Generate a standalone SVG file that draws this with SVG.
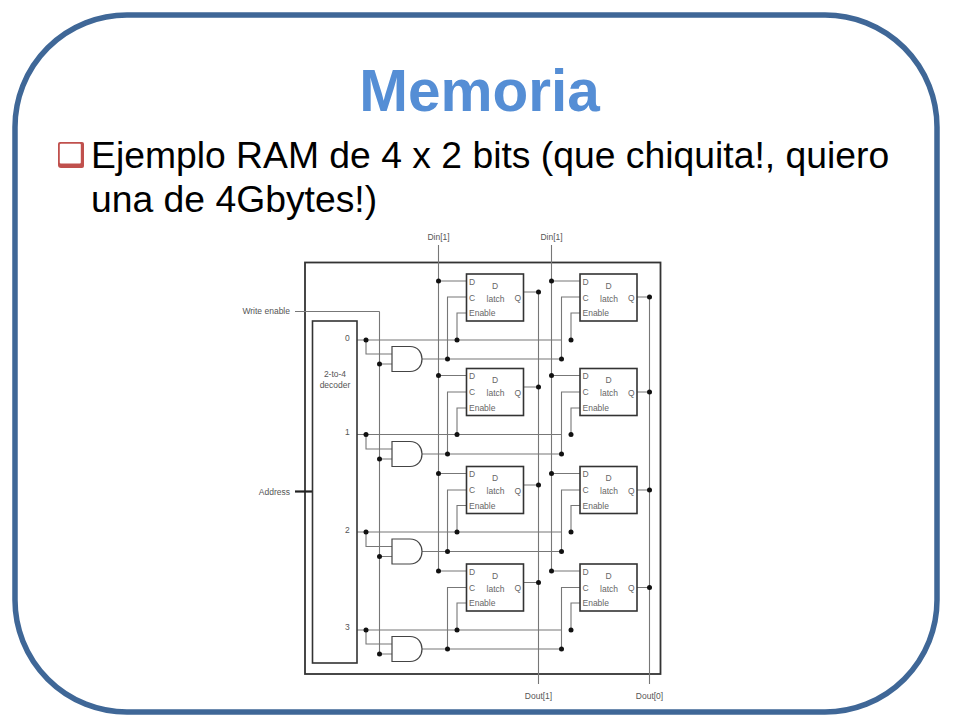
<svg xmlns="http://www.w3.org/2000/svg" width="960" height="720" viewBox="0 0 960 720">
<style>
text{font-family:"Liberation Sans",Arial,sans-serif}
.t{font-size:8.500px;fill:#555}
.l{font-size:8.500px;fill:#666}
.w{fill:none;stroke:#777;stroke-width:1.1}
.b{fill:#fff;stroke:#333;stroke-width:1.6}
.g{fill:#fff;stroke:#444;stroke-width:1.2}
.d{fill:#111}
</style>
<defs>
<circle id="dot" r="2.500" class="d"/>
<g id="latch">
<rect class="b" x="0" y="0" width="57" height="47"/>
<text class="l" x="2.500" y="10.500">D</text>
<text class="l" x="2.500" y="26.500">C</text>
<text class="l" x="2.500" y="42">Enable</text>
<text class="l" x="28.500" y="14.500" text-anchor="middle">D</text>
<text class="l" x="29" y="27.500" text-anchor="middle">latch</text>
<text class="l" x="48" y="27">Q</text>
</g>
<path id="and" class="g" d="M0 0H18C26 0 30 6 30 12.500S26 25 18 25H0Z"/>
</defs>
<rect width="960" height="720" fill="#fff"/>
<rect id="slide-frame" x="15" y="15" width="922" height="697" rx="112" ry="112" fill="#fff" stroke="#3f6797" stroke-width="5.500"/>
<text id="title" x="479.500" y="111" text-anchor="middle" font-size="58.500" font-weight="bold" fill="#558ed5">Memoria</text>
<g id="bullet">
<path d="M60 142H82Q84 142 84 144V166Q84 168 82 168H61Q58 168 58 165V144Q58 142 60 142Z" fill="#c0504d"/>
<rect x="59.800" y="143.700" width="21" height="19.800" rx="1" fill="#fff"/>
</g>
<text id="line1" x="91" y="168" font-size="37.300" fill="#000">Ejemplo RAM de 4 x 2 bits (que chiquita!, quiero</text>
<text id="line2" x="91" y="212" font-size="37.300" fill="#000">una de 4Gbytes!)</text>

<g id="circuit-frame"><rect x="305" y="262.500" width="355.500" height="411.500" fill="none" stroke="#333" stroke-width="1.800"/></g>

<g id="connectors">
<path class="w" d="M438.500 245V571M551.500 245V571M379.500 311.500H295M379.500 311.500V654M538.500 292V684M649.500 297V684"/>
<path class="w" d="M357 340H561M366 340V354H392M379.500 364H392M422 359H561.500M447.500 359V297H466.500M457 340V313H466.500M438.500 281H466.500M523.500 292H538.500M551.500 281H580M561.500 359V297H580M571 340V313H580M637 297H649.500"/>
<path class="w" d="M357 434.500H561M366 434.500V449H392M379.500 459H392M422 454H561.500M447.500 454V392H466.500M457 434.500V408H466.500M438.500 375.500H466.500M523.500 387H538.500M551.500 375.500H580M561.500 454V392H580M571 434.500V408H580M637 392H649.500"/>
<path class="w" d="M357 532H561M366 532V546.500H392M379.500 556.500H392M422 551.500H561.500M447.500 551.500V490H466.500M457 532V505.500H466.500M438.500 473.500H466.500M523.500 485H538.500M551.500 473.500H580M561.500 551.500V490H580M571 532V505.500H580M637 490H649.500"/>
<path class="w" d="M357 630H561M366 630V644H392M379.500 654H392M422 649H561.500M447.500 649V587.500H466.500M457 630V603H466.500M438.500 571H466.500M523.500 582.500H538.500M551.500 571H580M561.500 649V587.500H580M571 630V603H580M637 587.500H649.500"/>
<path d="M295 491.500H312.500" fill="none" stroke="#222" stroke-width="2.200"/>
<g>
<use href="#dot" x="438.500" y="281"/><use href="#dot" x="438.500" y="375.500"/><use href="#dot" x="438.500" y="473.500"/><use href="#dot" x="438.500" y="571"/>
<use href="#dot" x="551.500" y="281"/><use href="#dot" x="551.500" y="375.500"/><use href="#dot" x="551.500" y="473.500"/><use href="#dot" x="551.500" y="571"/>
<use href="#dot" x="538.500" y="292"/><use href="#dot" x="538.500" y="387"/><use href="#dot" x="538.500" y="485"/><use href="#dot" x="538.500" y="582.500"/>
<use href="#dot" x="649.500" y="297"/><use href="#dot" x="649.500" y="392"/><use href="#dot" x="649.500" y="490"/><use href="#dot" x="649.500" y="587.500"/>
<use href="#dot" x="366" y="340"/><use href="#dot" x="366" y="434.500"/><use href="#dot" x="366" y="532"/><use href="#dot" x="366" y="630"/>
<use href="#dot" x="379.500" y="364"/><use href="#dot" x="379.500" y="459"/><use href="#dot" x="379.500" y="556.500"/><use href="#dot" x="379.500" y="654"/>
<use href="#dot" x="447.500" y="359"/><use href="#dot" x="447.500" y="454"/><use href="#dot" x="447.500" y="551.500"/><use href="#dot" x="447.500" y="649"/>
<use href="#dot" x="457" y="340"/><use href="#dot" x="457" y="434.500"/><use href="#dot" x="457" y="532"/><use href="#dot" x="457" y="630"/>
<use href="#dot" x="561.500" y="359"/><use href="#dot" x="561.500" y="454"/><use href="#dot" x="561.500" y="551.500"/><use href="#dot" x="561.500" y="649"/>
<use href="#dot" x="571" y="340"/><use href="#dot" x="571" y="434.500"/><use href="#dot" x="571" y="532"/><use href="#dot" x="571" y="630"/>
</g>
</g>

<g id="decoder">
<rect class="b" x="312.500" y="321" width="44.500" height="342"/>
<text class="t" x="335" y="377" text-anchor="middle">2-to-4</text>
<text class="t" x="335" y="388" text-anchor="middle">decoder</text>
<text class="t" x="345" y="341">0</text>
<text class="t" x="345" y="435">1</text>
<text class="t" x="345" y="533">2</text>
<text class="t" x="345" y="630">3</text>
</g>
<g id="and0"><use href="#and" x="392" y="346.500"/></g>
<g id="and1"><use href="#and" x="392" y="441.500"/></g>
<g id="and2"><use href="#and" x="392" y="539"/></g>
<g id="and3"><use href="#and" x="392" y="636.500"/></g>
<g id="latch-0-1"><use href="#latch" x="466.500" y="274"/></g>
<g id="latch-0-0"><use href="#latch" x="580" y="274"/></g>
<g id="latch-1-1"><use href="#latch" x="466.500" y="368.500"/></g>
<g id="latch-1-0"><use href="#latch" x="580" y="368.500"/></g>
<g id="latch-2-1"><use href="#latch" x="466.500" y="466.500"/></g>
<g id="latch-2-0"><use href="#latch" x="580" y="466.500"/></g>
<g id="latch-3-1"><use href="#latch" x="466.500" y="564"/></g>
<g id="latch-3-0"><use href="#latch" x="580" y="564"/></g>
<g id="labels">
<text class="t" x="438.500" y="240" text-anchor="middle">Din[1]</text>
<text class="t" x="551.500" y="240" text-anchor="middle">Din[1]</text>
<text class="t" x="290" y="314" text-anchor="end">Write enable</text>
<text class="t" x="290" y="495" text-anchor="end">Address</text>
<text class="t" x="538.500" y="699" text-anchor="middle">Dout[1]</text>
<text class="t" x="649.500" y="699" text-anchor="middle">Dout[0]</text>
</g>
</svg>
